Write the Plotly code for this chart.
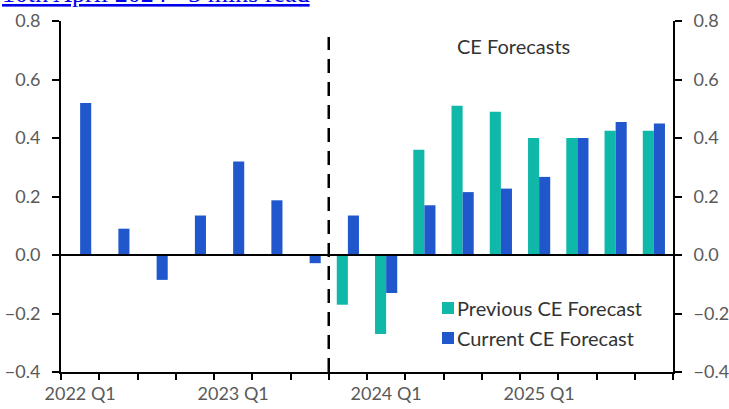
import plotly.graph_objects as go

quarters = ["2022 Q1", "2022 Q2", "2022 Q3", "2022 Q4",
            "2023 Q1", "2023 Q2", "2023 Q3", "2023 Q4",
            "2024 Q1", "2024 Q2", "2024 Q3", "2024 Q4",
            "2025 Q1", "2025 Q2", "2025 Q3", "2025 Q4"]
previous_forecast = [None, None, None, None, None, None, None, -0.17,
                     -0.27, 0.36, 0.51, 0.49, 0.40, 0.40, 0.425, 0.425]
current_forecast = [0.52, 0.09, -0.085, 0.135, 0.32, 0.187, -0.028, 0.135,
                    -0.13, 0.17, 0.215, 0.227, 0.267, 0.40, 0.455, 0.45]
tick_labels = [q if q.endswith("Q1") else "" for q in quarters]
y_ticks = [-0.4, -0.2, 0.0, 0.2, 0.4, 0.6, 0.8]
forecast_start = "2023 Q4"
series_names = ["Previous CE Forecast", "Current CE Forecast"]

TEAL = "#10B8AA"
BLUE = "#2057CC"
FONT = "Lato"
W, H = 729, 409
ML, MR, MT, MB = 61, 56, 21, 37
PW, PH = W - ML - MR, H - MT - MB


def px_x(px):
    return (px - ML) / PW


def px_y(py):
    return (H - MB - py) / PH


fig = go.Figure()
fig.add_trace(go.Bar(x=quarters, y=previous_forecast, name=series_names[0],
                     marker=dict(color=TEAL, line=dict(width=0)), showlegend=False))
fig.add_trace(go.Bar(x=quarters, y=current_forecast, name=series_names[1],
                     marker=dict(color=BLUE, line=dict(width=0)), showlegend=False))

split = quarters.index(forecast_start) - 0.5
fig.add_shape(type="line", xref="x", yref="y", x0=split, x1=split, y0=-0.4, y1=0.745,
              line=dict(color="black", width=2.5, dash="14px,9px"))
fig.add_shape(type="line", xref="paper", yref="y", x0=0, x1=1, y0=0, y1=0,
              line=dict(color="black", width=2))

# manual legend
for i, (name, col) in enumerate(zip(series_names, [TEAL, BLUE])):
    cy = 308 + 30 * i
    fig.add_shape(type="rect", xref="paper", yref="paper",
                  x0=px_x(442), x1=px_x(454), y0=px_y(cy + 6), y1=px_y(cy - 6),
                  fillcolor=col, line=dict(width=0))
    fig.add_annotation(text=name, xref="paper", yref="paper", x=px_x(455), y=px_y(cy),
                       xanchor="left", yanchor="middle", showarrow=False,
                       font=dict(family=FONT, size=20, color="#333333"))

fig.add_annotation(text="CE Forecasts", xref="paper", yref="paper", x=px_x(513), y=px_y(46),
                   xanchor="center", yanchor="middle",
                   showarrow=False, font=dict(family=FONT, size=20, color="#333333"))
fig.add_annotation(text="<u>10th April 2024 · 3 mins read</u>", xref="paper", yref="paper",
                   x=px_x(0), y=px_y(10), xanchor="left", yanchor="bottom",
                   showarrow=False, font=dict(family="Liberation Serif", size=26, color="#0000EE"))

axis_font = dict(family=FONT, size=18, color="#5a5a5a")
common_y = dict(range=[-0.4, 0.8], tickvals=y_ticks, tickformat=".1f",
                ticks="outside", ticklen=7, tickwidth=2, tickcolor="black",
                showline=True, linecolor="black", linewidth=2, showgrid=False,
                zeroline=False, tickfont=axis_font, ticklabelstandoff=8)
fig.update_layout(
    width=W, height=H,
    margin=dict(l=ML, r=MR, t=MT, b=MB, autoexpand=False),
    plot_bgcolor="white", paper_bgcolor="white",
    barmode="group", bargap=0.42, bargroupgap=0,
    xaxis=dict(type="category", tickvals=quarters, ticktext=tick_labels,
               range=[-0.5, len(quarters) - 0.5],
               tickson="boundaries", ticks="outside", ticklen=6, tickwidth=2,
               tickcolor="black", showline=True, linecolor="black", linewidth=2,
               showgrid=False, tickfont=dict(family=FONT, size=18, color="#5a5a5a"),
               tickangle=0, zeroline=False, ticklabelstandoff=4),
    yaxis=common_y,
    yaxis2=dict(**common_y, overlaying="y", side="right", anchor="x"),
)
fig.add_trace(go.Scatter(x=[quarters[0]], y=[None], yaxis="y2", showlegend=False,
                         hoverinfo="skip"))
fig.write_html("out.html", config={"displayModeBar": False},
               post_script="document.body.style.margin='0';")
